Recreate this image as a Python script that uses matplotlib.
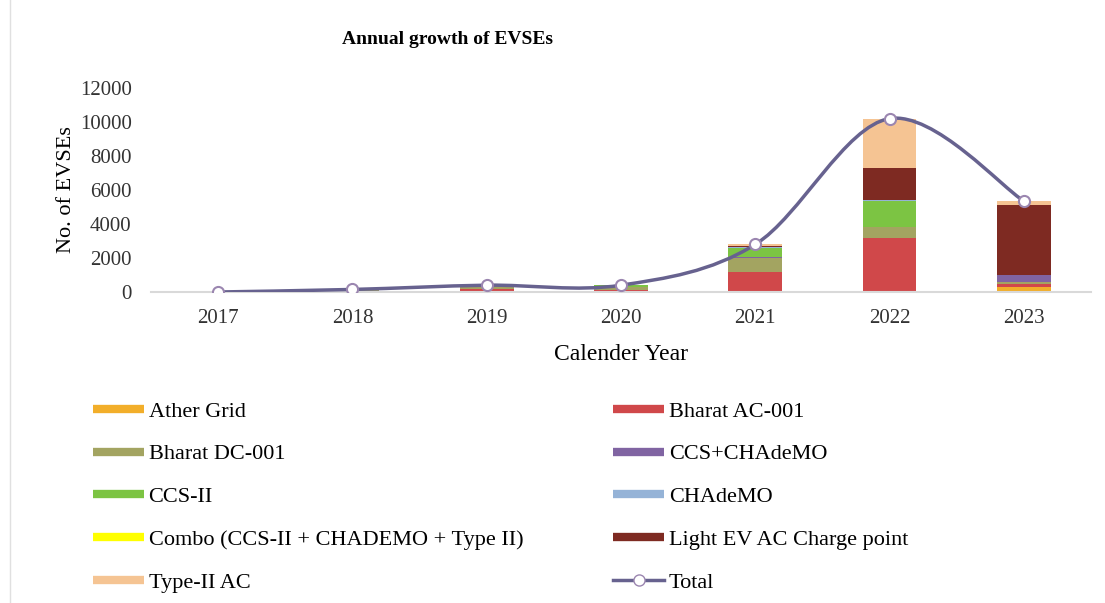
import numpy as np
import matplotlib
matplotlib.use("Agg")
import matplotlib.pyplot as plt
from matplotlib.path import Path
from matplotlib.patches import PathPatch
from matplotlib.lines import Line2D

plt.rcParams['font.family'] = ['Liberation Serif', 'DejaVu Serif']

years = ["2017", "2018", "2019", "2020", "2021", "2022", "2023"]

ather_grid = [0, 0, 0, 0, 50, 0, 300]
bharat_ac = [0, 50, 200, 100, 1100, 3200, 200]
bharat_dc = [0, 100, 150, 200, 850, 600, 100]
ccs_chademo = [0, 0, 0, 0, 50, 50, 400]
ccs_ii = [0, 0, 50, 100, 550, 1500, 0]
chademo = [0, 0, 0, 0, 50, 50, 0]
combo = [0, 0, 0, 0, 0, 0, 0]
light_ev = [0, 0, 0, 0, 50, 1900, 4100]
type_ii = [0, 0, 0, 0, 100, 2900, 250]

series = [
    ("Ather Grid", ather_grid, "#F2AE2A"),
    ("Bharat AC-001", bharat_ac, "#D0484A"),
    ("Bharat DC-001", bharat_dc, "#A3A461"),
    ("CCS+CHAdeMO", ccs_chademo, "#8064A2"),
    ("CCS-II", ccs_ii, "#7CC443"),
    ("CHAdeMO", chademo, "#95B3D7"),
    ("Combo (CCS-II + CHADEMO + Type II)", combo, "#FFFF00"),
    ("Light EV AC Charge point", light_ev, "#7E2A22"),
    ("Type-II AC", type_ii, "#F5C493"),
]


def smooth_path(x, y):
    # Catmull-Rom style cubic Bezier through every point
    pts = np.column_stack([x, y]).astype(float)
    n = len(pts)
    verts = [pts[0]]
    codes = [Path.MOVETO]
    for i in range(n - 1):
        p0 = pts[max(i - 1, 0)]
        p1 = pts[i]
        p2 = pts[i + 1]
        p3 = pts[min(i + 2, n - 1)]
        c1 = p1 + (p2 - p0) / 6.0
        c2 = p2 - (p3 - p1) / 6.0
        verts += [c1, c2, p2]
        codes += [Path.CURVE4] * 3
    return Path(verts, codes)


fig = plt.figure(figsize=(11.05, 6.03), dpi=100)
ax = fig.add_axes([151 / 1105, 1 - 292 / 603, 940 / 1105, 204 / 603])

x = np.arange(len(years))
bottom = np.zeros(len(years))
for name, vals, color in series:
    vals = np.array(vals, dtype=float)
    ax.bar(x, vals, width=0.4, bottom=bottom, color=color, zorder=2)
    bottom += vals
total = bottom

line_color = "#67628F"
ax.add_patch(PathPatch(smooth_path(x, total), facecolor="none",
                       edgecolor=line_color, lw=2.5, zorder=3))
ax.plot(x, total, ls="none", marker="o", ms=8, mfc="white",
        mec="#9B86B0", mew=1.5, zorder=4)

ax.set_xlim(-0.5, 6.5)
ax.set_ylim(0, 12000)
ax.set_yticks(range(0, 12001, 2000))
ax.set_xticks(x)
ax.set_xticklabels(years)
ax.tick_params(axis="both", length=0, labelsize=15, colors="#333333")
ax.tick_params(axis="y", pad=14)
ax.tick_params(axis="x", pad=12)
for s in ["top", "right", "left"]:
    ax.spines[s].set_visible(False)
ax.spines["bottom"].set_color("#D9D9D9")
ax.spines["bottom"].set_linewidth(1.5)

ax.set_xlabel("Calender Year", fontsize=17, labelpad=12)
ax.set_ylabel("No. of EVSEs", fontsize=16, labelpad=3)
fig.text(447 / 1105, 1 - 40 / 603, "Annual growth of EVSEs",
         fontsize=14, fontweight="bold", ha="center", va="center")

# legend laid out row by row in two columns
handles = [Line2D([], [], color=c, lw=6, solid_capstyle="butt") for _, _, c in series]
labels = [n for n, _, _ in series]
handles.append(Line2D([], [], color=line_color, lw=2.5, marker="o", ms=8,
                      mfc="white", mec="#9B86B0"))
labels.append("Total")
order = list(range(0, 10, 2)) + list(range(1, 10, 2))
fig.legend([handles[i] for i in order], [labels[i] for i in order],
           ncol=2, loc="upper left", bbox_to_anchor=(93 / 1105, 1 - 401 / 603),
           frameon=False, fontsize=16, handlelength=2.3, handletextpad=0.2,
           labelspacing=1.0, columnspacing=4.05, borderpad=0, borderaxespad=0)

fig.add_artist(Line2D([10 / 1105, 10 / 1105], [0, 1], color="#E0E0E0", lw=1))

fig.savefig("out.png", dpi=100)
